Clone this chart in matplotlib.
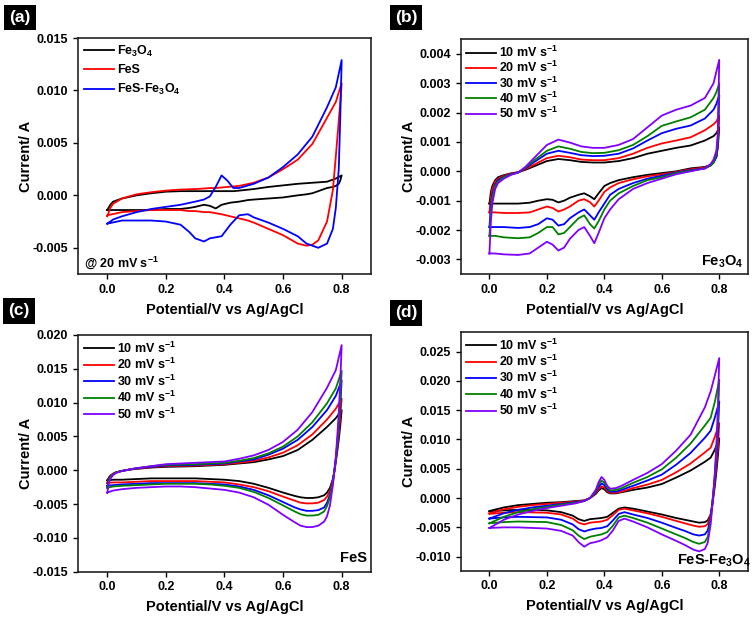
import numpy as np
import matplotlib
matplotlib.use('Agg')
import matplotlib.pyplot as plt
from matplotlib.ticker import FuncFormatter, MultipleLocator

plt.rcParams['font.family'] = ['Liberation Sans', 'DejaVu Sans']
plt.rcParams['font.weight'] = 'bold'
plt.rcParams['mathtext.fontset'] = 'custom'
plt.rcParams['mathtext.rm'] = 'Liberation Sans:bold'
plt.rcParams['mathtext.it'] = 'Liberation Sans:bold'
plt.rcParams['mathtext.bf'] = 'Liberation Sans:bold'
plt.rcParams['mathtext.default'] = 'rm'

# ---------------- data (potential in V, current in A) ----------------
rate_labels = ['10 mV s$^{-1}$', '20 mV s$^{-1}$', '30 mV s$^{-1}$',
               '40 mV s$^{-1}$', '50 mV s$^{-1}$']
rate_colors = ['#000000', '#ff0000', '#0000ff', '#008000', '#8000ff']

# (a) three materials at 20 mV/s
a_labels = ['Fe$_3$O$_4$', 'FeS', 'FeS-Fe$_3$O$_4$']
a_colors = ['#000000', '#ff0000', '#0000ff']
a_E_fwd = [0.0, 0.01, 0.02, 0.05, 0.1, 0.15, 0.2, 0.25, 0.3, 0.33, 0.35, 0.37,
           0.39, 0.41, 0.43, 0.45, 0.5, 0.55, 0.6, 0.65, 0.7, 0.75, 0.78, 0.8]
a_E_rev = [0.8, 0.795, 0.79, 0.78, 0.77, 0.75, 0.72, 0.7, 0.68, 0.65, 0.6, 0.55,
           0.5, 0.48, 0.45, 0.42, 0.39, 0.37, 0.35, 0.33, 0.3, 0.28, 0.25, 0.2,
           0.15, 0.1, 0.05, 0.0]
a_fwd = [
    [-0.0014, -0.0009, -0.0006, -0.0003, 0.0, 0.0002, 0.00035, 0.0004, 0.0004, 0.0004,
     0.0004, 0.0004, 0.0004, 0.0004, 0.0004, 0.00045, 0.0006, 0.0008, 0.00095, 0.0011,
     0.0012, 0.0013, 0.0016, 0.0019],
    [-0.002, -0.0012, -0.0008, -0.0003, 0.0001, 0.0003, 0.00045, 0.00055, 0.0006, 0.00065,
     0.0007, 0.0007, 0.00075, 0.0008, 0.00085, 0.0009, 0.0012, 0.0017, 0.0025, 0.0034,
     0.0049, 0.0074, 0.0089, 0.0107],
    [-0.0027, -0.0025, -0.0023, -0.002, -0.0016, -0.0013, -0.0011, -0.0009, -0.0006, -0.0004,
     -0.0001, 0.0008, 0.0019, 0.0014, 0.0007, 0.0007, 0.0011, 0.0017, 0.0027, 0.0039,
     0.0056, 0.0084, 0.0103, 0.0129],
]
a_rev = [
    [0.0019, 0.0014, 0.0011, 0.0009, 0.0008, 0.0007, 0.0004, 0.0002, 0.0001, 0.0,
     -0.0002, -0.0003, -0.0004, -0.00045, -0.0006, -0.0007, -0.0009, -0.00125, -0.001, -0.0009,
     -0.0011, -0.0012, -0.0013, -0.0013, -0.0014, -0.0014, -0.0014, -0.0014],
    [0.0107, 0.0088, 0.0071, 0.0037, 0.0005, -0.0025, -0.0043, -0.0047, -0.0048, -0.0046,
     -0.0038, -0.0032, -0.0026, -0.0024, -0.0022, -0.002, -0.0018, -0.0017, -0.0016, -0.0016,
     -0.0015, -0.0015, -0.0014, -0.0014, -0.0014, -0.0015, -0.0016, -0.0019],
    [0.0129, 0.0072, 0.0025, -0.0012, -0.0032, -0.0046, -0.005, -0.0048, -0.0046, -0.0039,
     -0.0032, -0.0026, -0.0021, -0.0018, -0.0019, -0.0028, -0.0039, -0.004, -0.0041, -0.0044,
     -0.0041, -0.0035, -0.0028, -0.0025, -0.0024, -0.0024, -0.0024, -0.0027],
]

# (b) Fe3O4 at 10-50 mV/s
b_E_fwd = [0.0, 0.005, 0.01, 0.02, 0.03, 0.05, 0.075, 0.1, 0.125, 0.15, 0.2, 0.24, 0.28,
           0.32, 0.36, 0.4, 0.45, 0.5, 0.55, 0.6, 0.65, 0.7, 0.75, 0.78, 0.79, 0.8]
b_E_rev = [0.8, 0.795, 0.79, 0.78, 0.77, 0.75, 0.7, 0.65, 0.6, 0.55, 0.5, 0.45, 0.42, 0.4,
           0.38, 0.365, 0.35, 0.33, 0.31, 0.28, 0.26, 0.24, 0.22, 0.2, 0.17, 0.14, 0.1,
           0.05, 0.02, 0.0]
b_fwd = [
    [-0.0011, -0.0007, -0.0005, -0.0003, -0.0002, -0.00013, -0.00007, -0.00003, 0.00005,
     0.00015, 0.00035, 0.00042, 0.00038, 0.00032, 0.0003, 0.0003, 0.00035, 0.00045, 0.0006,
     0.0007, 0.0008, 0.00088, 0.00105, 0.0012, 0.0013, 0.0015],
    [-0.0014, -0.0009, -0.0006, -0.00035, -0.00025, -0.00015, -0.00008, -0.00003, 0.00007,
     0.0002, 0.00045, 0.00053, 0.00048, 0.0004, 0.00038, 0.00038, 0.00045, 0.0006, 0.0008,
     0.00095, 0.00105, 0.00116, 0.0014, 0.0016, 0.0017, 0.0019],
    [-0.0019, -0.0012, -0.0008, -0.00045, -0.0003, -0.00018, -0.0001, -0.00004, 0.0001,
     0.00028, 0.0006, 0.0007, 0.00063, 0.00055, 0.00052, 0.00053, 0.0006, 0.00078, 0.00105,
     0.0013, 0.00145, 0.00156, 0.0018, 0.0021, 0.0023, 0.0026],
    [-0.0022, -0.0014, -0.0009, -0.0005, -0.00035, -0.0002, -0.00011, -0.00004, 0.00012,
     0.00033, 0.0007, 0.00085, 0.00077, 0.00066, 0.00062, 0.00063, 0.00072, 0.0009, 0.0012,
     0.00155, 0.0017, 0.00184, 0.0021, 0.0025, 0.0027, 0.003],
    [-0.0028, -0.0017, -0.0011, -0.0006, -0.0004, -0.00025, -0.00012, -0.00004, 0.00015,
     0.0004, 0.0009, 0.00108, 0.00098, 0.00085, 0.0008, 0.0008, 0.0009, 0.0011, 0.0015,
     0.0019, 0.0021, 0.00224, 0.0025, 0.003, 0.0034, 0.0038],
]
b_rev = [
    [0.0015, 0.0008, 0.0005, 0.0003, 0.00022, 0.00015, 0.0001, 0.0, -0.00006, -0.00012,
     -0.0002, -0.0003, -0.0004, -0.0005, -0.00075, -0.00095, -0.00085, -0.00075, -0.0008,
     -0.0009, -0.001, -0.00106, -0.00097, -0.00095, -0.001, -0.00107, -0.0011, -0.0011,
     -0.0011, -0.0011],
    [0.0019, 0.0009, 0.0005, 0.0003, 0.0002, 0.00013, 0.00007, -0.00002, -0.0001, -0.00017,
     -0.00027, -0.0004, -0.00055, -0.0007, -0.001, -0.0012, -0.00105, -0.00095, -0.001,
     -0.0012, -0.0013, -0.00137, -0.00125, -0.0012, -0.0013, -0.0014, -0.00142, -0.00142,
     -0.0014, -0.0014],
    [0.0026, 0.001, 0.0005, 0.0003, 0.0002, 0.0001, 0.00004, -0.00004, -0.00015, -0.00025,
     -0.0004, -0.0006, -0.0008, -0.0011, -0.0014, -0.00165, -0.0015, -0.0013, -0.0014,
     -0.0016, -0.0018, -0.00185, -0.00165, -0.0016, -0.0018, -0.0019, -0.00193, -0.0019,
     -0.0019, -0.0019],
    [0.003, 0.0011, 0.0006, 0.0003, 0.0002, 0.0001, 0.00002, -0.00006, -0.0002, -0.0003,
     -0.0005, -0.00075, -0.001, -0.0013, -0.0017, -0.00195, -0.0018, -0.0015, -0.0016,
     -0.0019, -0.0021, -0.00215, -0.0019, -0.0019, -0.0021, -0.00225, -0.00228, -0.00225,
     -0.0022, -0.0022],
    [0.0038, 0.0013, 0.0007, 0.0004, 0.00025, 0.0001, 0.0, -0.0001, -0.00025, -0.0004,
     -0.0006, -0.00095, -0.0013, -0.0016, -0.0021, -0.00245, -0.0022, -0.0019, -0.002,
     -0.0023, -0.0026, -0.0027, -0.0025, -0.0024, -0.0026, -0.0028, -0.00285, -0.00283,
     -0.0028, -0.0028],
]

# (c) FeS at 10-50 mV/s
c_E_fwd = [0.0, 0.005, 0.01, 0.02, 0.03, 0.05, 0.075, 0.1, 0.15, 0.2, 0.25, 0.3, 0.35,
           0.4, 0.45, 0.5, 0.55, 0.6, 0.65, 0.7, 0.75, 0.78, 0.8]
c_E_rev = [0.8, 0.795, 0.79, 0.785, 0.78, 0.775, 0.77, 0.76, 0.75, 0.74, 0.72, 0.7, 0.68,
           0.66, 0.64, 0.6, 0.55, 0.5, 0.45, 0.4, 0.35, 0.3, 0.25, 0.2, 0.15, 0.1, 0.05,
           0.02, 0.0]
c_fwd = [
    [-0.0015, -0.0011, -0.0008, -0.0005, -0.0003, -0.0001, 0.0001, 0.0002, 0.0004, 0.0005,
     0.00055, 0.0006, 0.0007, 0.0008, 0.001, 0.0012, 0.0016, 0.0021, 0.003, 0.0045, 0.0064,
     0.0077, 0.0089],
    [-0.0019, -0.0013, -0.0009, -0.0005, -0.0003, -0.0001, 0.0001, 0.00025, 0.00045, 0.0006,
     0.00065, 0.0007, 0.0008, 0.0009, 0.0011, 0.0014, 0.0019, 0.0026, 0.0037, 0.0053, 0.0075,
     0.0091, 0.0106],
    [-0.0023, -0.0015, -0.001, -0.0006, -0.0003, -0.0001, 0.0001, 0.0003, 0.0005, 0.0007,
     0.00075, 0.0008, 0.0009, 0.001, 0.0013, 0.0016, 0.0023, 0.0032, 0.0045, 0.0064, 0.0089,
     0.011, 0.0133],
    [-0.0026, -0.0017, -0.0011, -0.0006, -0.0003, -0.0001, 0.0001, 0.0003, 0.0006, 0.0008,
     0.00085, 0.0009, 0.001, 0.0011, 0.0014, 0.0018, 0.0025, 0.0035, 0.005, 0.0071, 0.0099,
     0.0121, 0.0147],
    [-0.0033, -0.002, -0.0013, -0.0007, -0.0004, -0.0001, 0.0001, 0.0003, 0.0006, 0.0009,
     0.001, 0.0011, 0.0012, 0.0013, 0.0017, 0.0022, 0.003, 0.0042, 0.006, 0.0086, 0.0122,
     0.0148, 0.0185],
]
c_rev = [
    [0.0089, 0.0065, 0.0045, 0.0028, 0.0012, -0.0002, -0.0013, -0.0026, -0.0033, -0.0037,
     -0.004, -0.0041, -0.0041, -0.004, -0.0038, -0.0033, -0.0026, -0.002, -0.0016, -0.0014,
     -0.0013, -0.0012, -0.0012, -0.0012, -0.0012, -0.0013, -0.0014, -0.0014, -0.0015],
    [0.0106, 0.0078, 0.0054, 0.0033, 0.0015, -0.0001, -0.0014, -0.003, -0.0039, -0.0044,
     -0.0048, -0.0049, -0.0049, -0.0048, -0.0045, -0.0039, -0.0031, -0.0025, -0.0021, -0.0018,
     -0.0017, -0.0016, -0.0016, -0.0016, -0.0016, -0.0017, -0.0018, -0.0018, -0.0019],
    [0.0133, 0.0095, 0.0064, 0.0038, 0.0016, -0.0001, -0.0016, -0.0036, -0.0048, -0.0055,
     -0.0059, -0.006, -0.006, -0.0058, -0.0055, -0.0047, -0.0037, -0.0029, -0.0024, -0.0021,
     -0.002, -0.0019, -0.0019, -0.0019, -0.0019, -0.002, -0.0021, -0.0022, -0.0023],
    [0.0147, 0.0105, 0.007, 0.0041, 0.0017, -0.0001, -0.0018, -0.004, -0.0053, -0.0061,
     -0.0066, -0.0067, -0.0067, -0.0065, -0.0061, -0.0052, -0.0041, -0.0032, -0.0026, -0.0023,
     -0.0021, -0.002, -0.002, -0.002, -0.0021, -0.0022, -0.0023, -0.0024, -0.0026],
    [0.0185, 0.013, 0.0085, 0.005, 0.002, -0.0002, -0.0022, -0.0052, -0.0068, -0.0076,
     -0.0082, -0.0084, -0.0084, -0.0082, -0.0077, -0.0066, -0.0051, -0.004, -0.0033, -0.0029,
     -0.0027, -0.0025, -0.0024, -0.0024, -0.0025, -0.0026, -0.0028, -0.003, -0.0033],
]

# (d) FeS-Fe3O4 at 10-50 mV/s
d_E_fwd = [0.0, 0.05, 0.1, 0.15, 0.2, 0.25, 0.3, 0.33, 0.35, 0.37, 0.38, 0.39, 0.4, 0.41,
           0.42, 0.44, 0.46, 0.5, 0.55, 0.6, 0.65, 0.7, 0.75, 0.77, 0.785, 0.8]
d_E_rev = [0.8, 0.795, 0.79, 0.785, 0.78, 0.775, 0.77, 0.76, 0.75, 0.73, 0.71, 0.68, 0.65,
           0.6, 0.55, 0.5, 0.47, 0.45, 0.43, 0.41, 0.39, 0.37, 0.35, 0.33, 0.31, 0.29, 0.25,
           0.2, 0.1, 0.05, 0.0]
d_fwd = [
    [-0.0022, -0.0016, -0.0012, -0.001, -0.0008, -0.0007, -0.0005, -0.0004, 0.0, 0.0007,
     0.0013, 0.0017, 0.0015, 0.001, 0.0008, 0.0008, 0.001, 0.0014, 0.0018, 0.0024, 0.0035,
     0.0047, 0.0062, 0.0069, 0.0083, 0.0102],
    [-0.0026, -0.0019, -0.0015, -0.0012, -0.001, -0.0008, -0.0006, -0.0004, 0.0, 0.0008,
     0.0015, 0.002, 0.0018, 0.0012, 0.0009, 0.0009, 0.0011, 0.0017, 0.0023, 0.0031, 0.0044,
     0.0059, 0.0078, 0.0086, 0.0105, 0.0128],
    [-0.0035, -0.0026, -0.002, -0.0016, -0.0013, -0.001, -0.0007, -0.0005, 0.0, 0.001,
     0.0019, 0.0025, 0.0022, 0.0015, 0.0011, 0.0011, 0.0014, 0.0021, 0.003, 0.004, 0.0057,
     0.0077, 0.0103, 0.0115, 0.0138, 0.0165],
    [-0.0043, -0.0032, -0.0024, -0.0019, -0.0015, -0.0011, -0.0008, -0.0005, 0.0, 0.0012,
     0.0023, 0.003, 0.0026, 0.0018, 0.0013, 0.0014, 0.0017, 0.0026, 0.0036, 0.0049, 0.0069,
     0.0093, 0.0124, 0.0137, 0.0165, 0.0202],
    [-0.0051, -0.0037, -0.0028, -0.0022, -0.0017, -0.0013, -0.0009, -0.0005, 0.0, 0.0014,
     0.0027, 0.0036, 0.0031, 0.0021, 0.0016, 0.0017, 0.0021, 0.0031, 0.0043, 0.0058, 0.0081,
     0.0108, 0.0155, 0.0182, 0.021, 0.0239],
]
d_rev = [
    [0.0102, 0.007, 0.0045, 0.0022, 0.0003, -0.0015, -0.0028, -0.0038, -0.0041, -0.0042,
     -0.004, -0.0037, -0.0034, -0.0028, -0.0023, -0.0018, -0.0016, -0.0018, -0.0025, -0.0032,
     -0.0034, -0.0035, -0.0036, -0.0039, -0.0036, -0.003, -0.0024, -0.0021, -0.002, -0.0021,
     -0.0023],
    [0.0128, 0.0085, 0.0055, 0.003, 0.0008, -0.0012, -0.0028, -0.0044, -0.0048, -0.0049,
     -0.0047, -0.0043, -0.0039, -0.0032, -0.0026, -0.0021, -0.0018, -0.002, -0.0029, -0.0037,
     -0.004, -0.0041, -0.0042, -0.0045, -0.0042, -0.0035, -0.0028, -0.0025, -0.0024, -0.0025,
     -0.0027],
    [0.0165, 0.011, 0.007, 0.0038, 0.0012, -0.0012, -0.0033, -0.0055, -0.0062, -0.0064,
     -0.0062, -0.0056, -0.0051, -0.0042, -0.0034, -0.0028, -0.0024, -0.0027, -0.0038, -0.0048,
     -0.0051, -0.0052, -0.0054, -0.0057, -0.0053, -0.0045, -0.0037, -0.0033, -0.0032, -0.0033,
     -0.0035],
    [0.0202, 0.013, 0.008, 0.0042, 0.0012, -0.0015, -0.0038, -0.0066, -0.0075, -0.0078,
     -0.0075, -0.0068, -0.0062, -0.0052, -0.0042, -0.0034, -0.003, -0.0033, -0.0047, -0.0058,
     -0.0062, -0.0064, -0.0066, -0.007, -0.0064, -0.0055, -0.0046, -0.0041, -0.004, -0.0041,
     -0.0043],
    [0.0239, 0.015, 0.009, 0.0046, 0.0012, -0.0018, -0.0045, -0.0076, -0.0087, -0.0091,
     -0.0088, -0.008, -0.0073, -0.0062, -0.005, -0.004, -0.0035, -0.0039, -0.0055, -0.0067,
     -0.0072, -0.0075, -0.0077, -0.0083, -0.0075, -0.0064, -0.0056, -0.0052, -0.005, -0.005,
     -0.0051],
]

# ---------------- figure ----------------
fig = plt.figure(figsize=(7.56, 6.17), dpi=100)
ax_a = fig.add_axes([0.1032, 0.5559, 0.3875, 0.3825])
ax_b = fig.add_axes([0.6094, 0.5559, 0.3800, 0.3804])
ax_c = fig.add_axes([0.1032, 0.0734, 0.3875, 0.3837])
ax_d = fig.add_axes([0.6094, 0.0750, 0.3800, 0.3874])


def cv(ax, e_fwd, e_rev, fwd, rev, labels, colors):
    for yf, yr, lab, col in zip(fwd, rev, labels, colors):
        ax.plot(e_fwd + e_rev, yf + yr, color=col, lw=1.3, label=lab,
                solid_joinstyle='round')


def style(ax, ylim, ystep):
    ax.set_xlim(-0.1, 0.9)
    ax.set_ylim(*ylim)
    ax.xaxis.set_major_locator(MultipleLocator(0.2))
    ax.yaxis.set_major_locator(MultipleLocator(ystep))
    ax.xaxis.set_major_formatter(FuncFormatter(lambda v, p: f'{v:.1f}'))
    ax.yaxis.set_major_formatter(FuncFormatter(lambda v, p: f'{v:.3f}'))
    ax.tick_params(direction='out', length=3.5, width=1, labelsize=9,
                   top=False, right=False)
    for lab in ax.get_xticklabels() + ax.get_yticklabels():
        lab.set_fontweight('bold')
    for s in ax.spines.values():
        s.set_linewidth(1.2)
        s.set_color('#222222')
    ax.set_xlabel('Potential/V vs Ag/AgCl', fontsize=10.5, fontweight='bold', labelpad=5)
    ax.set_ylabel('Current/ A', fontsize=10.5, fontweight='bold')
    ax.yaxis.set_label_coords(-0.155, 0.5)


def legend(ax, spacing):
    ax.legend(loc='upper left', frameon=False, fontsize=9, handlelength=2.4,
              handletextpad=0.25, labelspacing=spacing, borderaxespad=0.15,
              borderpad=0.3)


cv(ax_a, a_E_fwd, a_E_rev, a_fwd, a_rev, a_labels, a_colors)
style(ax_a, (-0.0075, 0.015), 0.005)
legend(ax_a, 0.45)
ax_a.text(0.02, 0.05, '@ 20 mV s$^{-1}$', transform=ax_a.transAxes, fontsize=9,
          ha='left', va='center')

cv(ax_b, b_E_fwd, b_E_rev, b_fwd, b_rev, rate_labels, rate_colors)
style(ax_b, (-0.0035, 0.0045), 0.001)
legend(ax_b, 0.0)
ax_b.text(0.985, 0.05, 'Fe$_3$O$_4$', transform=ax_b.transAxes, fontsize=10.5,
          ha='right', va='center')

cv(ax_c, c_E_fwd, c_E_rev, c_fwd, c_rev, rate_labels, rate_colors)
style(ax_c, (-0.015, 0.020), 0.005)
legend(ax_c, 0.1)
ax_c.text(0.985, 0.06, 'FeS', transform=ax_c.transAxes, fontsize=10.5,
          ha='right', va='center')

cv(ax_d, d_E_fwd, d_E_rev, d_fwd, d_rev, rate_labels, rate_colors)
style(ax_d, (-0.0124, 0.0284), 0.005)
legend(ax_d, 0.1)
ax_d.text(1.01, 0.04, 'FeS-Fe$_3$O$_4$', transform=ax_d.transAxes, fontsize=10.5,
          ha='right', va='center')

box = dict(boxstyle='square,pad=0.3', fc='black', ec='none')
for x, y, t in [(0.026, 0.972, '(a)'), (0.537, 0.972, '(b)'),
                (0.025, 0.496, '(c)'), (0.537, 0.493, '(d)')]:
    fig.text(x, y, t, color='white', fontsize=12.5, fontweight='bold',
             ha='center', va='center', bbox=box)

fig.savefig('out.png', dpi=100)
